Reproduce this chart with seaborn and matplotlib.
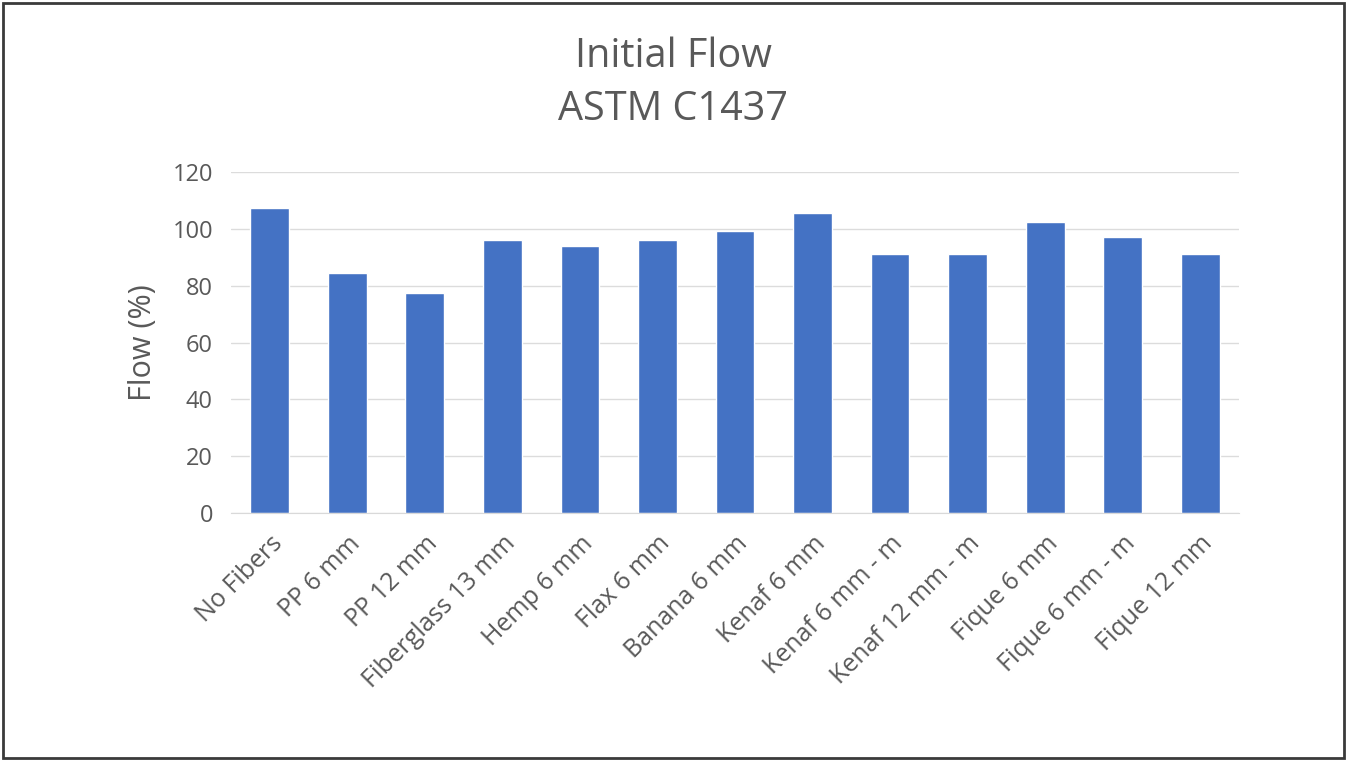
import matplotlib
matplotlib.use("Agg")
import matplotlib.pyplot as plt
import seaborn as sns
import pandas as pd
from matplotlib.patches import Rectangle

# Values
categories = ['No Fibers', 'PP 6 mm', 'PP 12 mm', 'Fiberglass 13 mm', 'Hemp 6 mm',
              'Flax 6 mm', 'Banana 6 mm', 'Kenaf 6 mm', 'Kenaf 6 mm - m',
              'Kenaf 12 mm - m', 'Fique 6 mm', 'Fique 6 mm - m', 'Fique 12 mm']
flow = [107.2, 84.3, 77.3, 96.0, 94.0, 96.0, 99.1, 105.4, 91.1, 91.1, 102.3, 97.0, 91.1]
y_ticks = [0, 20, 40, 60, 80, 100, 120]

sns.set_style('white')
plt.rcParams['font.family'] = ['Open Sans', 'DejaVu Sans']

df = pd.DataFrame({'category': categories, 'flow': flow})

fig = plt.figure(figsize=(13.47, 7.61), dpi=100)
ax = fig.add_axes([231 / 1347, 1 - 513 / 761, (1239 - 231) / 1347, (513 - 172) / 761])

sns.barplot(data=df, x='category', y='flow', color='#4472C4', width=0.5,
            saturation=1, ax=ax)

text_col = '#595959'
ax.set_ylim(0, 120)
ax.set_yticks(y_ticks)
ax.yaxis.grid(True, color='#dcdcdc', linewidth=1)
ax.set_axisbelow(True)
for side in ['top', 'right', 'left']:
    ax.spines[side].set_visible(False)
ax.spines['bottom'].set_color('#d9d9d9')
ax.tick_params(axis='y', length=0, labelsize=17, colors=text_col, pad=13)
ax.tick_params(axis='x', length=0, labelsize=18, colors=text_col, pad=13)
ax.set_xticks(range(len(categories)))
ax.set_xticklabels(categories, rotation=45, ha='right', rotation_mode='anchor')
ax.set_xlabel('')
ax.set_ylabel('Flow (%)', fontsize=22, color=text_col, labelpad=10)

fig.text(0.5, 1 - 57 / 761, 'Initial Flow', ha='center', va='center',
         fontsize=28.5, color=text_col)
fig.text(0.5, 1 - 110 / 761, 'ASTM C1437', ha='center', va='center',
         fontsize=28.5, color=text_col)

fig.patches.append(Rectangle((3 / 1347, 3 / 761), 1 - 6 / 1347, 1 - 6 / 761,
                             transform=fig.transFigure, fill=False,
                             edgecolor='#3a3a3a', linewidth=2))

fig.savefig('out.png', dpi=100)
